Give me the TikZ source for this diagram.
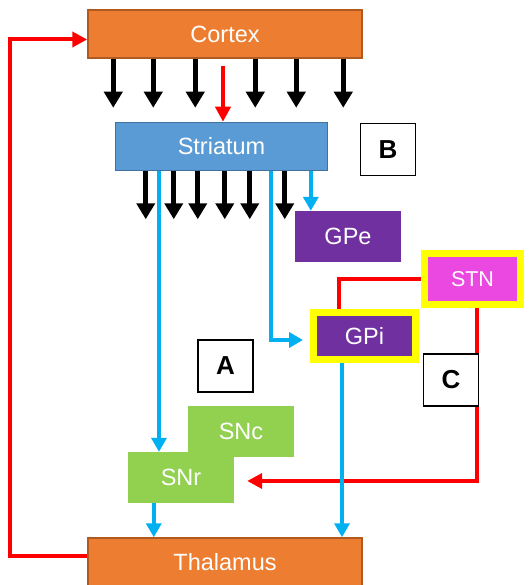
\documentclass[tikz,border=0pt]{standalone}
\usepackage{fontspec}
\setmainfont{Liberation Sans}
\usepackage{xcolor}
\usepackage{tikz}
\usetikzlibrary{arrows.meta,positioning,calc}
\definecolor{ctxorange} {RGB}{237,125,49}
\definecolor{ctxborder} {RGB}{174,90,33}
\definecolor{striblue}  {RGB}{91,155,213}
\definecolor{striborder}{RGB}{65,113,156}
\definecolor{gppurple}  {RGB}{112,48,160}
\definecolor{stnpink}   {RGB}{234,72,224}
\definecolor{sngreen}   {RGB}{146,208,80}
\definecolor{hiyellow}  {RGB}{255,255,0}
\definecolor{pathblue}  {RGB}{0,176,240}
\definecolor{pathred}   {RGB}{255,0,0}
\tikzset{
  region/.style={align=center, text=white, inner sep=0pt,
                 font=\fontsize{23.5}{28}\selectfont,
                 minimum width=#1},
  region/.default=106pt,
  ctxbox/.style ={region=274pt, fill=ctxorange, draw=ctxborder,
                  line width=1.5pt, minimum height=48pt},
  stribox/.style={region=212pt, fill=striblue, draw=striborder,
                  line width=1.5pt, minimum height=48pt},
  gpbox/.style  ={region, fill=gppurple, minimum height=51pt},
  snbox/.style  ={region, fill=sngreen,  minimum height=51pt},
  hibox/.style  ={draw=hiyellow, line width=7pt},
  letbox/.style ={draw, line width=1.5pt, fill=white, inner sep=0pt,
                  minimum width=55pt, minimum height=52pt,
                  font=\fontsize{26}{30}\selectfont\bfseries},
  blkarr/.style ={-{Triangle[width=18pt,length=16pt]}, line width=5pt},
  bluarr/.style ={-{Triangle[width=15pt,length=14pt]}, line width=3.5pt,
                  pathblue},
  redarr/.style ={-{Triangle[width=15pt,length=15pt]}, line width=4pt,
                  pathred},
  redline/.style={line width=4pt, pathred},
}
\begin{document}
\begin{tikzpicture}[x=1pt, y=-1pt]
\useasboundingbox (0,0) rectangle (528,585);

%% ─── Regions ────────────────────────────────────────────────────────────────
\node[ctxbox]  (Ctx)  at (225, 34)    {Cortex};
\node[stribox] (Str)  at (221.5,146.5){Striatum};
\node[gpbox]   (GPe)  at (348, 236.5) {GPe};
\node[gpbox, hibox, minimum width=102pt, minimum height=47pt]
  (GPi) at (364.5, 336) {GPi};
\node[region=96pt, fill=stnpink, hibox, minimum height=51pt,
      font=\fontsize{21.5}{26}\selectfont]
  (STN) at (472.5, 279) {STN};
\node[snbox]   (SNc)  at (241, 431.5) {SNc};
\node[snbox]   (SNr)  at (181, 477.5) {SNr};
\node[ctxbox]  (Thal) at (225, 562)   {Thalamus};

%% ─── Cortex -> Striatum ─────────────────────────────────────────────────────
\foreach \d in {26,66,108,168,209,256}{
  \draw[blkarr] ($(Ctx.south west)+(\d,0)$) -- ++(0,49);
}
\draw[redarr] ([xshift=-2pt,yshift=-7pt]Ctx.south)
  -- ([xshift=-2pt]Ctx.south |- Str.north);

%% ─── Striatum outputs ───────────────────────────────────────────────────────
\foreach \d in {31,59,83,110,135,170}{
  \draw[blkarr] ($(Str.south west)+(\d,0)$) -- ++(0,48);
}
\draw[bluarr] ([xshift=-22pt]SNr.north |- Str.south) -- ([xshift=-22pt]SNr.north);
\draw[bluarr] ([xshift=49.5pt]Str.south) |- ([yshift=-4pt,xshift=-7pt]GPi.west);
\draw[bluarr] ([xshift=16pt]GPe.north west |- Str.south)
  -- ([xshift=16pt]GPe.north west);

%% ─── STN loops ──────────────────────────────────────────────────────────────
\draw[redline] (STN.west) -| ([xshift=-25.5pt]GPi.north);
\draw[redarr, shorten >=13pt] ([xshift=4.5pt]STN.south)
  |- ([yshift=-3.5pt]SNr.east);

%% ─── Into Thalamus ──────────────────────────────────────────────────────────
\draw[bluarr] ([xshift=26pt]SNr.south west) -- ([xshift=26pt]SNr.south west |- Thal.north);
\draw[bluarr] ([xshift=-22.5pt]GPi.south) -- ([xshift=-22.5pt]GPi.south |- Thal.north);
\draw[redarr] ([yshift=6pt]Thal.west) -- ++(-77,0)
  |- ([yshift=-5.5pt]Ctx.west);

%% ─── Labels ─────────────────────────────────────────────────────────────────
\node[letbox] (LB) at (388, 149.5) {B};
\node[letbox] (LA) at (225.5, 366) {A};
\node[letbox] (LC) at (451, 380)   {C};

\end{tikzpicture}
\end{document}
